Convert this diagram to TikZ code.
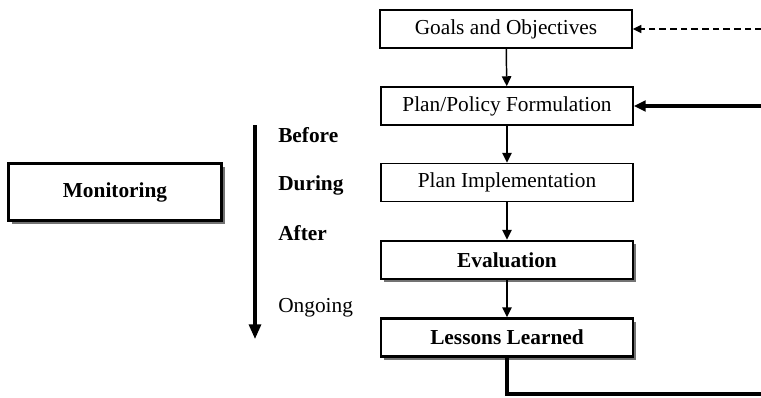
\documentclass[tikz,border=0pt]{standalone}
\usepackage{fontspec}
\setmainfont{Liberation Serif}
\usetikzlibrary{arrows.meta,shadows}
\begin{document}
\begin{tikzpicture}[x=0.75pt,y=-0.75pt,
  box/.style={draw, line width=1.1pt, minimum width=252*0.75pt, minimum height=38*0.75pt, font=\fontsize{16}{18}\selectfont, fill=white, inner sep=0pt},
  sbox/.style={box, line width=1.8pt, font=\fontsize{16}{18}\selectfont\bfseries, drop shadow={shadow xshift=2.5pt, shadow yshift=-2.5pt, fill=black!55, opacity=1}},
  lbl/.style={anchor=west, inner sep=0pt, font=\fontsize{16}{18}\selectfont},
  tip/.style={-{Triangle[length=7.5pt,width=7pt]}},
  thin/.style={line width=1.1pt, tip},
  thick/.style={line width=2.3pt}
]
\useasboundingbox (0,0) rectangle (761,397);
\node[box] (g) at (506,29) {Goals and Objectives};
\node[box] (p) at (507,106) {Plan/Policy Formulation};
\node[box] (i) at (507,182.5) {Plan Implementation};
\node[sbox] (e) at (507,260) {Evaluation};
\node[sbox] (l) at (507,337.5) {Lessons Learned};
\node[sbox, minimum width=213*0.75pt, minimum height=57*0.75pt] (m) at (115,192) {Monitoring};

\node[lbl, font=\fontsize{16}{18}\selectfont\bfseries] (b1) at (278,135) {Before};
\node[lbl, font=\fontsize{16}{18}\selectfont\bfseries] (b2) at (278,185) {During};
\node[lbl, font=\fontsize{16}{18}\selectfont\bfseries] (b3) at (278,233) {After};
\node[lbl] (b4) at (278,308) {Ongoing};

\coordinate (vt) at (255,125);
\coordinate (vb) at (255,339);
\draw[line width=2.3pt, -{Triangle[length=11pt,width=9pt]}] (vt) -- (vb);

\draw[thin] (g) -- (p);
\draw[thin] (p) -- (i);
\draw[thin] (i) -- (e);
\draw[thin] (e) -- (l);

\coordinate (dr) at (762,29);
\coordinate (tr) at (762,106);
\coordinate (br) at (762,394);
\draw[line width=1.1pt, dashed, dash pattern=on 5pt off 3pt, -{Triangle[length=6.5pt,width=6pt]}] (dr) -- (g.east);
\draw[thick, -{Triangle[length=9pt,width=8pt]}] (tr) -- (p.east);
\draw[thick] (l.south) |- (br);
\end{tikzpicture}
\end{document}
